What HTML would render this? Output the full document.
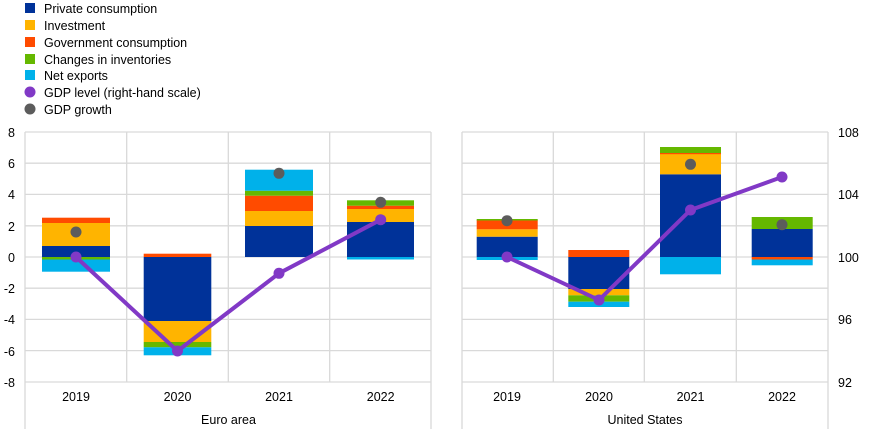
<!DOCTYPE html>
<html><head><meta charset="utf-8"><style>body{margin:0;background:#fff}svg{display:block;font-family:"Liberation Sans",sans-serif}</style></head><body>
<svg width="874" height="429" viewBox="0 0 874 429">
<g font-size="12.5" fill="#000">
<rect x="25" y="3" width="10" height="10" fill="#003299"/><text x="44" y="13">Private consumption</text>
<rect x="25" y="20" width="10" height="10" fill="#FFB400"/><text x="44" y="30">Investment</text>
<rect x="25" y="37" width="10" height="10" fill="#FF4B00"/><text x="44" y="47">Government consumption</text>
<rect x="25" y="54" width="10" height="10" fill="#65B800"/><text x="44" y="64">Changes in inventories</text>
<rect x="25" y="70" width="10" height="10" fill="#00B1EA"/><text x="44" y="80">Net exports</text>
<circle cx="30" cy="92" r="5.5" fill="#8139C6"/><text x="44" y="97">GDP level (right-hand scale)</text>
<circle cx="30" cy="109" r="5.5" fill="#5C5C5C"/><text x="44" y="114">GDP growth</text>
</g>
<g stroke="#d9d9d9" stroke-width="1.3">
<line x1="25" x2="431" y1="132" y2="132"/><line x1="25" x2="431" y1="163.2" y2="163.2"/><line x1="25" x2="431" y1="194.4" y2="194.4"/><line x1="25" x2="431" y1="225.8" y2="225.8"/><line x1="25" x2="431" y1="257" y2="257"/><line x1="25" x2="431" y1="288.2" y2="288.2"/><line x1="25" x2="431" y1="319.4" y2="319.4"/><line x1="25" x2="431" y1="350.6" y2="350.6"/><line x1="25" x2="431" y1="382" y2="382"/>
<line x1="462" x2="828" y1="132" y2="132"/><line x1="462" x2="828" y1="163.2" y2="163.2"/><line x1="462" x2="828" y1="194.4" y2="194.4"/><line x1="462" x2="828" y1="225.8" y2="225.8"/><line x1="462" x2="828" y1="257" y2="257"/><line x1="462" x2="828" y1="288.2" y2="288.2"/><line x1="462" x2="828" y1="319.4" y2="319.4"/><line x1="462" x2="828" y1="350.6" y2="350.6"/><line x1="462" x2="828" y1="382" y2="382"/>
<line x1="25" x2="25" y1="132" y2="429"/><line x1="431" x2="431" y1="132" y2="429"/><line x1="126.7" x2="126.7" y1="132" y2="382"/><line x1="228.3" x2="228.3" y1="132" y2="382"/><line x1="329.7" x2="329.7" y1="132" y2="382"/>
<line x1="462" x2="462" y1="132" y2="429"/><line x1="828" x2="828" y1="132" y2="429"/><line x1="553.3" x2="553.3" y1="132" y2="382"/><line x1="644.3" x2="644.3" y1="132" y2="382"/><line x1="736.3" x2="736.3" y1="132" y2="382"/>
</g>
<!-- Euro area bars -->
<g>
<rect x="42" y="246" width="68" height="11" fill="#003299"/><rect x="42" y="223" width="68" height="23" fill="#FFB400"/><rect x="42" y="217.7" width="68" height="5.3" fill="#FF4B00"/><rect x="42" y="257" width="68" height="2.5" fill="#65B800"/><rect x="42" y="259.5" width="68" height="12.2" fill="#00B1EA"/>
<rect x="143.7" y="253.7" width="67.6" height="3.3" fill="#FF4B00"/><rect x="143.7" y="257" width="67.6" height="64" fill="#003299"/><rect x="143.7" y="321" width="67.6" height="21" fill="#FFB400"/><rect x="143.7" y="342" width="67.6" height="5.3" fill="#65B800"/><rect x="143.7" y="347.3" width="67.6" height="8" fill="#00B1EA"/>
<rect x="245" y="226" width="68" height="31" fill="#003299"/><rect x="245" y="211" width="68" height="15" fill="#FFB400"/><rect x="245" y="195.7" width="68" height="15.3" fill="#FF4B00"/><rect x="245" y="190.7" width="68" height="5" fill="#65B800"/><rect x="245" y="169.7" width="68" height="21" fill="#00B1EA"/>
<rect x="347" y="222" width="67" height="35" fill="#003299"/><rect x="347" y="209" width="67" height="13" fill="#FFB400"/><rect x="347" y="205.7" width="67" height="3.3" fill="#FF4B00"/><rect x="347" y="200.3" width="67" height="5.4" fill="#65B800"/><rect x="347" y="257" width="67" height="2.5" fill="#00B1EA"/>
</g>
<!-- US bars -->
<g>
<rect x="476.7" y="236.7" width="61" height="20.3" fill="#003299"/><rect x="476.7" y="229.3" width="61" height="7.4" fill="#FFB400"/><rect x="476.7" y="220" width="61" height="9.3" fill="#FF4B00"/><rect x="476.7" y="219" width="61" height="1.5" fill="#65B800"/><rect x="476.7" y="257" width="61" height="3" fill="#00B1EA"/>
<rect x="568.3" y="250" width="61" height="7" fill="#FF4B00"/><rect x="568.3" y="257" width="61" height="32" fill="#003299"/><rect x="568.3" y="289" width="61" height="6.3" fill="#FFB400"/><rect x="568.3" y="295.3" width="61" height="6.4" fill="#65B800"/><rect x="568.3" y="301.7" width="61" height="5.3" fill="#00B1EA"/>
<rect x="660" y="174.3" width="61" height="82.7" fill="#003299"/><rect x="660" y="154" width="61" height="20.3" fill="#FFB400"/><rect x="660" y="153" width="61" height="1.2" fill="#FF4B00"/><rect x="660" y="147" width="61" height="6" fill="#65B800"/><rect x="660" y="257" width="61" height="17.3" fill="#00B1EA"/>
<rect x="751.7" y="229" width="61" height="28" fill="#003299"/><rect x="751.7" y="217" width="61" height="12" fill="#65B800"/><rect x="751.7" y="257" width="61" height="2.5" fill="#FF4B00"/><rect x="751.7" y="259.5" width="61" height="5.8" fill="#00B1EA"/>
</g>
<g fill="#5C5C5C">
<circle cx="76" cy="232" r="5.5"/><circle cx="279" cy="173.3" r="5.5"/><circle cx="380.7" cy="202.3" r="5.5"/>
<circle cx="507" cy="220.7" r="5.5"/><circle cx="690.5" cy="164.3" r="5.5"/><circle cx="782" cy="224.7" r="5.5"/>
</g>
<g stroke="#8139C6" stroke-width="4" fill="none" stroke-linejoin="round"><polyline points="76,257 177.5,351 279,273.3 380.7,219.7"/><polyline points="507,257 599,300 690.5,210 782,177"/></g>
<g fill="#8139C6">
<circle cx="76" cy="257" r="5.5"/><circle cx="177.5" cy="351" r="5.5"/><circle cx="279" cy="273.3" r="5.5"/><circle cx="380.7" cy="219.7" r="5.5"/>
<circle cx="507" cy="257" r="5.5"/><circle cx="599" cy="300" r="5.5"/><circle cx="690.5" cy="210" r="5.5"/><circle cx="782" cy="177" r="5.5"/>
</g>
<g font-size="12.5" fill="#000" text-anchor="end">
<text x="15" y="137">8</text><text x="15" y="168">6</text><text x="15" y="199">4</text><text x="15" y="231">2</text><text x="15" y="262">0</text><text x="15" y="293">-2</text><text x="15" y="324">-4</text><text x="15" y="356">-6</text><text x="15" y="387">-8</text>
</g>
<g font-size="12.5" fill="#000">
<text x="838" y="137">108</text><text x="838" y="199">104</text><text x="838" y="262">100</text><text x="838" y="324">96</text><text x="838" y="387">92</text>
</g>
<g font-size="12.5" fill="#000" text-anchor="middle">
<text x="76" y="401">2019</text><text x="177.5" y="401">2020</text><text x="279" y="401">2021</text><text x="380.7" y="401">2022</text>
<text x="507" y="401">2019</text><text x="599" y="401">2020</text><text x="690.5" y="401">2021</text><text x="782" y="401">2022</text>
<text x="228.5" y="424">Euro area</text><text x="645" y="424">United States</text>
</g>
</svg>
</body></html>
